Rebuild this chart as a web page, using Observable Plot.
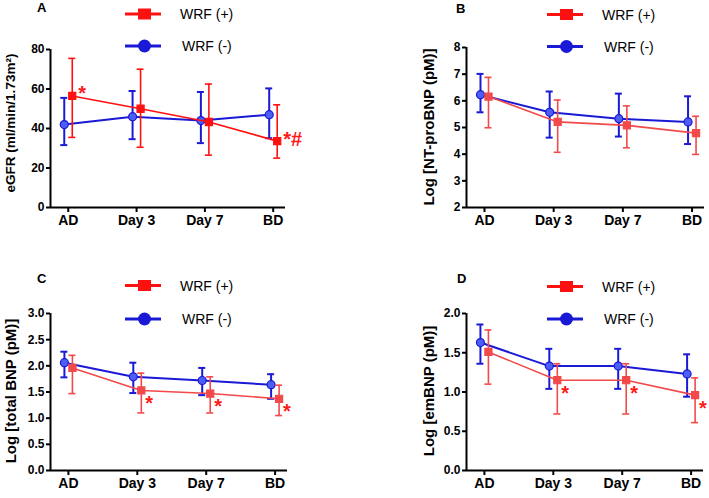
<!DOCTYPE html>
<html>
<head>
<meta charset="utf-8">
<script src="https://cdn.jsdelivr.net/npm/d3@7"></script>
<script src="https://cdn.jsdelivr.net/npm/@observablehq/plot@0.6"></script>
<style>
  html, body { margin: 0; padding: 0; background: #fff; }
  #wrap { position: relative; width: 709px; height: 498px; overflow: hidden; font-family: "Liberation Sans", Arial, sans-serif; }
  #wrap > svg, #wrap > figure { position: absolute; margin: 0; }
</style>
</head>
<body>
<div id="wrap"></div>
<script>
// ---------- data ----------
const days = ["AD", "Day 3", "Day 7", "BD"];

// Panel A: eGFR
const egfrPos   = [56.5, 50.0, 43.3, 33.6];
const egfrPosHi = [75.5, 70.0, 62.5, 52.0];
const egfrPosLo = [35.5, 30.5, 26.5, 25.0];
const egfrNeg   = [42.0, 46.0, 44.0, 47.0];
const egfrNegHi = [55.5, 59.0, 58.5, 60.3];
const egfrNegLo = [31.6, 34.6, 32.6, 35.1];
const egfrTicks = [0, 20, 40, 60, 80];

// Panel B: Log NT-proBNP
const ntPos   = [6.16, 5.21, 5.08, 4.79];
const ntPosHi = [6.88, 6.03, 5.81, 5.42];
const ntPosLo = [4.99, 4.07, 4.24, 3.99];
const ntNeg   = [6.23, 5.57, 5.33, 5.21];
const ntNegHi = [7.01, 6.35, 6.27, 6.17];
const ntNegLo = [5.57, 4.62, 4.66, 4.38];
const ntTicks = [2, 3, 4, 5, 6, 7, 8];

// Panel C: Log total BNP
const totPos   = [1.96, 1.53, 1.47, 1.37];
const totPosHi = [2.20, 1.86, 1.79, 1.63];
const totPosLo = [1.47, 1.10, 1.10, 1.05];
const totNeg   = [2.06, 1.79, 1.72, 1.64];
const totNegHi = [2.27, 2.06, 1.96, 1.84];
const totNegLo = [1.78, 1.48, 1.44, 1.37];
const totTicks = [0, 0.5, 1.0, 1.5, 2.0, 2.5, 3.0];

// Panel D: Log emBNP
const emPos   = [1.51, 1.15, 1.15, 0.96];
const emPosHi = [1.79, 1.36, 1.36, 1.18];
const emPosLo = [1.10, 0.72, 0.72, 0.61];
const emNeg   = [1.63, 1.33, 1.33, 1.23];
const emNegHi = [1.86, 1.55, 1.55, 1.48];
const emNegLo = [1.36, 1.04, 1.04, 0.94];
const emTicks = [0, 0.5, 1.0, 1.5, 2.0];

// significance marks: [day index, text]
const starsA = [[0, "*"], [3, "*#"]];
const starsC = [[1, "*"], [2, "*"], [3, "*"]];
const starsD = [[1, "*"], [2, "*"], [3, "*"]];

const legendLabels = ["WRF (+)", "WRF (-)"];

// ---------- styling ----------
const FONT = '"Liberation Sans", Arial, sans-serif';
const BLUE = "#1a1ad6";
const BLUE_FILL = "#4d5ef2";

function rows(v, lo, hi) {
  return days.map((d, i) => ({i, day: d, v: v[i], lo: lo[i], hi: hi[i]}));
}

function panel(cfg) {
  const pos = rows(cfg.pos, cfg.posLo, cfg.posHi);
  const neg = rows(cfg.neg, cfg.negLo, cfg.negHi);
  const red = cfg.red;
  const xDom = [-0.26, 3.18];
  const stars = cfg.stars.map(([i, t]) => ({i, t, v: cfg.pos[i]}));
  const series = (data, color, fill, dx, sw, symbol, r) => [
    Plot.ruleX(data, {x: "i", y1: "lo", y2: "hi", dx, stroke: color, strokeWidth: sw}),
    Plot.ruleY(data, {x1: "i", x2: "i", y: "hi", dx, insetLeft: -3.5, insetRight: -3.5, stroke: color, strokeWidth: sw}),
    Plot.ruleY(data, {x1: "i", x2: "i", y: "lo", dx, insetLeft: -3.5, insetRight: -3.5, stroke: color, strokeWidth: sw}),
    Plot.line(data, {x: "i", y: "v", dx, stroke: color, strokeWidth: sw}),
    Plot.dot(data, {x: "i", y: "v", dx, symbol, r, fill, stroke: color, strokeWidth: 1.2})
  ];
  const chart = Plot.plot({
    width: cfg.width, height: cfg.height,
    marginLeft: 50, marginRight: cfg.mr, marginTop: cfg.mt, marginBottom: cfg.mb,
    style: {fontFamily: FONT, color: "#000", background: "transparent", overflow: "visible"},
    x: {domain: xDom, axis: null},
    y: {domain: cfg.yDom, axis: null},
    marks: [
      Plot.axisY({ticks: cfg.ticks, tickFormat: cfg.fmt, tickSize: 4, tickPadding: 2, fontSize: 12, fontWeight: "bold", strokeWidth: 2, label: null}),
      Plot.axisX({ticks: [0, 1, 2, 3], tickFormat: i => days[i], tickSize: 5, tickPadding: 3, fontSize: 14, fontWeight: "bold", strokeWidth: 2, label: null}),
      Plot.ruleX([xDom[0]], {stroke: "#000", strokeWidth: 2}),
      Plot.ruleY([cfg.yDom[0]], {stroke: "#000", strokeWidth: 2}),
      ...series(neg, BLUE, BLUE_FILL, -4, 2, "circle", 4),
      ...series(pos, red, red, 4, 1.6, "square", 4),
      Plot.text(stars, {x: "i", y: "v", text: "t", dx: cfg.starDx, dy: cfg.starDy, textAnchor: "start", fill: "#ff1a1a", fontSize: 20, fontWeight: "bold"})
    ]
  });
  chart.style.position = "absolute";
  chart.style.left = cfg.left + "px";
  chart.style.top = cfg.top + "px";
  return chart;
}

const wrap = document.getElementById("wrap");
const fmt0 = d3.format("d");
const fmt1 = d3.format(".1f");

wrap.appendChild(panel({left: 0, top: 0, width: 300, height: 249, mr: 15, mt: 49, mb: 42,
  yDom: [0, 80], ticks: egfrTicks, fmt: fmt0, red: "#ff1010",
  pos: egfrPos, posLo: egfrPosLo, posHi: egfrPosHi, neg: egfrNeg, negLo: egfrNegLo, negHi: egfrNegHi,
  stars: starsA, starDx: 10, starDy: -2}));
wrap.appendChild(panel({left: 416, top: 0, width: 293, height: 249, mr: 5, mt: 47, mb: 42,
  yDom: [2, 8], ticks: ntTicks, fmt: fmt0, red: "#f24a4a",
  pos: ntPos, posLo: ntPosLo, posHi: ntPosHi, neg: ntNeg, negLo: ntNegLo, negHi: ntNegHi,
  stars: [], starDx: 9, starDy: 13}));
wrap.appendChild(panel({left: 0, top: 265, width: 300, height: 233, mr: 13, mt: 48, mb: 28,
  yDom: [0, 3], ticks: totTicks, fmt: fmt1, red: "#f24a4a",
  pos: totPos, posLo: totPosLo, posHi: totPosHi, neg: totNeg, negLo: totNegLo, negHi: totNegHi,
  stars: starsC, starDx: 8, starDy: 13}));
wrap.appendChild(panel({left: 416, top: 265, width: 293, height: 233, mr: 6, mt: 48, mb: 28,
  yDom: [0, 2], ticks: emTicks, fmt: fmt1, red: "#f24a4a",
  pos: emPos, posLo: emPosLo, posHi: emPosHi, neg: emNeg, negLo: emNegLo, negHi: emNegHi,
  stars: starsD, starDx: 8, starDy: 13}));

// ---------- overlay: panel letters, y titles, legends ----------
const ov = d3.select(wrap).append("svg")
  .attr("width", 709).attr("height", 498)
  .style("position", "absolute").style("left", "0px").style("top", "0px")
  .style("pointer-events", "none")
  .style("font-family", FONT);

const letters = [["A", 37, 12], ["B", 456, 13], ["C", 37, 283], ["D", 457, 283]];
letters.forEach(([t, x, y]) => ov.append("text").attr("x", x).attr("y", y)
  .attr("font-size", 13).attr("font-weight", "bold").text(t));

const titles = [
  ["eGFR (ml/min/1.73m²)", 15, 123, 13.5],
  ["Log [NT-proBNP (pM)]", 434, 127, 15],
  ["Log [total BNP (pM)]", 16, 391, 15],
  ["Log [emBNP (pM)]", 434, 391, 15]
];
titles.forEach(([t, x, y, fs]) => ov.append("text")
  .attr("transform", `translate(${x},${y}) rotate(-90)`)
  .attr("text-anchor", "middle").attr("font-size", fs).attr("font-weight", "bold").text(t));

function legend(x0, yRed, yBlue, red) {
  ov.append("line").attr("x1", x0).attr("x2", x0 + 36).attr("y1", yRed).attr("y2", yRed)
    .attr("stroke", red).attr("stroke-width", 3);
  ov.append("rect").attr("x", x0 + 13).attr("y", yRed - 5.5).attr("width", 13).attr("height", 11).attr("fill", red);
  ov.append("text").attr("x", x0 + 55).attr("y", yRed + 5).attr("font-size", 14).text(legendLabels[0]);
  ov.append("line").attr("x1", x0).attr("x2", x0 + 36).attr("y1", yBlue).attr("y2", yBlue)
    .attr("stroke", BLUE).attr("stroke-width", 3);
  ov.append("circle").attr("cx", x0 + 19.5).attr("cy", yBlue).attr("r", 6.5).attr("fill", BLUE);
  ov.append("text").attr("x", x0 + 57).attr("y", yBlue + 5).attr("font-size", 14).text(legendLabels[1]);
}
legend(125, 14, 46, "#ff1010");
legend(547, 14.5, 46.5, "#ff1010");
legend(125, 285.5, 319, "#ff1010");
legend(547, 286.5, 319, "#ff1010");
</script>
</body>
</html>
